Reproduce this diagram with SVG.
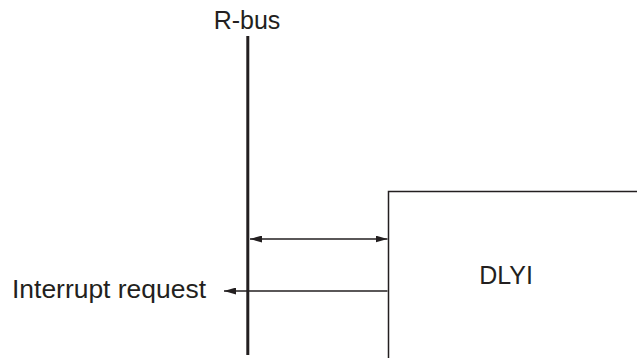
<svg xmlns="http://www.w3.org/2000/svg" width="637" height="358" viewBox="0 0 637 358">
<defs>
<style>
.t{font-family:"Liberation Sans",Arial,sans-serif;font-size:25px;fill:#231f20}
.ln{stroke:#231f20;stroke-width:1.5;fill:none}
</style>
<marker id="ah" viewBox="0 0 12 7" refX="12" refY="3.5" markerWidth="12" markerHeight="7" markerUnits="userSpaceOnUse" orient="auto-start-reverse">
<path d="M0,0 L12,3.5 L0,7 Z" fill="#231f20"/>
</marker>
</defs>
<rect width="637" height="358" fill="#fff"/>
<g id="rbus">
<line x1="247.8" y1="36" x2="247.8" y2="355" stroke="#231f20" stroke-width="3"/>
<text class="t" x="247" y="29" text-anchor="middle">R-bus</text>
</g>
<g id="dlyi">
<path class="ln" d="M637,191.5 H388.5 V358"/>
<text class="t" x="506" y="284" text-anchor="middle">DLYI</text>
</g>
<g id="irq">
<text class="t" x="12" y="298" textLength="194" lengthAdjust="spacingAndGlyphs">Interrupt request</text>
</g>
<g id="connectors">
<line class="ln" x1="250" y1="239" x2="387.5" y2="239" marker-start="url(#ah)" marker-end="url(#ah)"/>
<line class="ln" x1="387.5" y1="291" x2="224" y2="291" marker-end="url(#ah)"/>
</g>
</svg>
